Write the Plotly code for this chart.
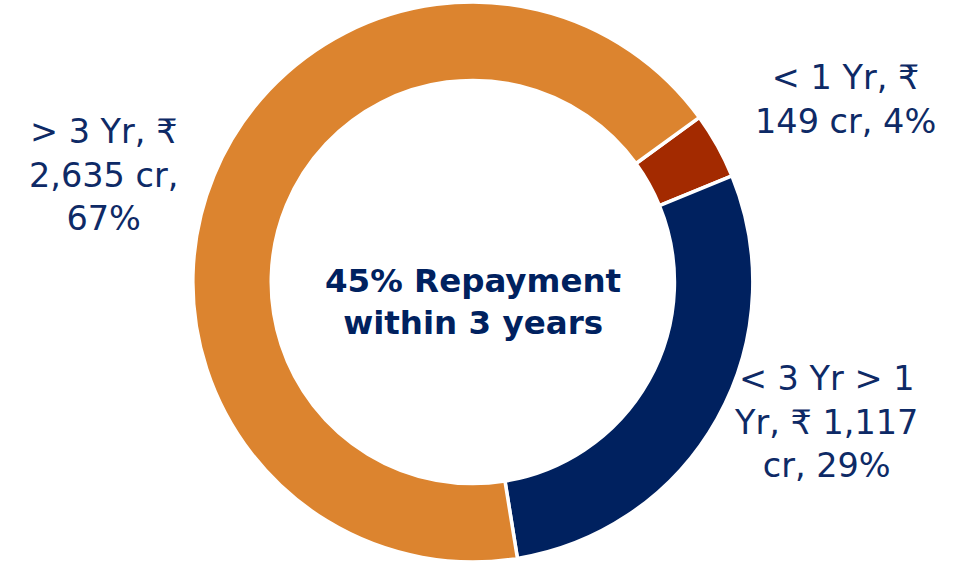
import plotly.graph_objects as go

categories = ["< 1 Yr", "< 3 Yr > 1 Yr", "> 3 Yr"]
values_cr = [149, 1117, 2635]
percents = ["4%", "29%", "67%"]
label_texts = [
    "< 1 Yr, ₹<br>149 cr, 4%",
    "< 3 Yr > 1<br>Yr, ₹ 1,117<br>cr, 29%",
    "> 3 Yr, ₹<br>2,635 cr,<br>67%",
]
colors = ["#A32A00", "#00215F", "#DC842F"]
center_text = "45% Repayment<br>within 3 years"

W, H = 964, 562
MT, MB = 2, 0
NAVY = "#0E2A66"

fig = go.Figure(go.Pie(
    labels=categories,
    values=values_cr,
    sort=False,
    direction="clockwise",
    rotation=54,
    hole=0.72,
    marker=dict(colors=colors, line=dict(color="white", width=3.5)),
    textinfo="none",
    hoverinfo="label+value",
    domain=dict(x=[0, 0.981], y=[0, 1]),
))

def py(ypx):
    return (H - MB - ypx) / (H - MT - MB)

label_pos = [(845, 99), (826, 422), (103, 175)]
for txt, (xp, ypx) in zip(label_texts, label_pos):
    fig.add_annotation(
        text=txt, x=xp / W, y=py(ypx), xref="paper", yref="paper",
        showarrow=False, xanchor="center", yanchor="middle", align="center",
        font=dict(family="DejaVu Sans, sans-serif", size=33.5, color=NAVY),
    )

fig.add_annotation(
    text=center_text, x=473 / W, y=py(302), xref="paper", yref="paper",
    showarrow=False, xanchor="center", yanchor="middle", align="center",
    font=dict(family="DejaVu Sans, sans-serif", size=32.5, color="#00215F", weight="bold"),
)

fig.update_layout(
    width=W, height=H,
    margin=dict(l=0, r=0, t=MT, b=MB),
    showlegend=False,
    paper_bgcolor="white",
    plot_bgcolor="white",
)

fig.write_html("out.html")
